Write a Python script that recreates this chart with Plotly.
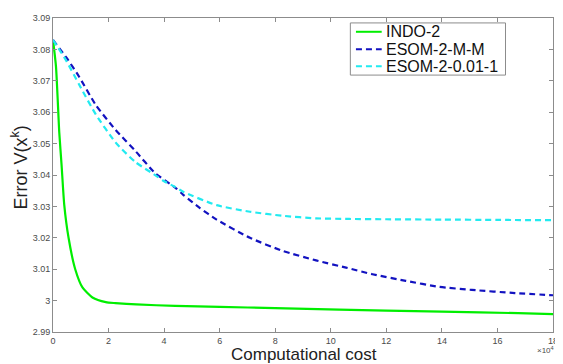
import plotly.graph_objects as go

# x in units of 1e4 (computational cost)
indo_x = [0, 0.107, 0.226, 0.31, 0.405, 0.56, 0.80, 1.06, 1.42, 1.90, 2.25, 3.0, 4.4, 6.0, 8.0, 10.3, 12.0, 14.0, 16.75, 18.0]
indo_y = [3.083, 3.0746, 3.0535, 3.0430, 3.0305, 3.0200, 3.0100, 3.0042, 3.0010, 2.9995, 2.9992, 2.9988, 2.9983, 2.9980, 2.9976, 2.9971, 2.9968, 2.9965, 2.9960, 2.9957]

mm_x = [0, 0.465, 0.94, 1.54, 2.25, 2.97, 3.69, 4.40, 4.70, 5.30, 5.89, 7.09, 8.28, 9.47, 10.55, 11.5, 12.7, 13.89, 15.08, 16.63, 18.0]
mm_y = [3.083, 3.0776, 3.0713, 3.0623, 3.0544, 3.0476, 3.0405, 3.0360, 3.0336, 3.0294, 3.0258, 3.0200, 3.0158, 3.0128, 3.0105, 3.0084, 3.0063, 3.0044, 3.0034, 3.0024, 3.0017]

e01_x = [0, 0.465, 0.94, 1.54, 2.25, 2.97, 3.69, 4.0, 4.40, 4.70, 5.89, 7.09, 8.28, 9.47, 10.67, 12.0, 14.0, 16.0, 18.0]
e01_y = [3.083, 3.0766, 3.0688, 3.0593, 3.0504, 3.0441, 3.0399, 3.0380, 3.0362, 3.0346, 3.0304, 3.0283, 3.0270, 3.0262, 3.0260, 3.0259, 3.0258, 3.0257, 3.0256]

series_names = ["INDO-2", "ESOM-2-M-M", "ESOM-2-0.01-1"]
series_colors = ["#00ee00", "#1212c0", "#22eaf0"]
series_dash = ["solid", "6px,4px", "6px,4px"]

x_ticks = [0, 2, 4, 6, 8, 10, 12, 14, 16, 18]
y_ticks = [2.99, 3.00, 3.01, 3.02, 3.03, 3.04, 3.05, 3.06, 3.07, 3.08, 3.09]
y_ticklabels = ["2.99", "3", "3.01", "3.02", "3.03", "3.04", "3.05", "3.06", "3.07", "3.08", "3.09"]

FONT = "Liberation Sans, Arial, sans-serif"

fig = go.Figure()
for xs, ys, name, col, dsh in [(indo_x, indo_y, series_names[0], series_colors[0], series_dash[0]),
                               (mm_x, mm_y, series_names[1], series_colors[1], series_dash[1]),
                               (e01_x, e01_y, series_names[2], series_colors[2], series_dash[2])]:
    fig.add_trace(go.Scatter(x=xs, y=ys, mode="lines", name=name, showlegend=False,
                             line=dict(color=col, width=2.2, dash=dsh, shape="spline", smoothing=0.6)))

axis_common = dict(showline=True, linecolor="#8c8c8c", linewidth=1, mirror="ticks",
                   ticks="inside", ticklen=4, tickcolor="#8c8c8c", showgrid=False,
                   zeroline=False, tickfont=dict(family=FONT, size=9, color="#4a4a4a"))

fig.update_xaxes(range=[0, 18], tickvals=x_ticks, ticktext=[str(v) for v in x_ticks], **axis_common)
fig.update_yaxes(range=[2.99, 3.09], tickvals=y_ticks, ticktext=y_ticklabels, **axis_common)

# axis titles and exponent
fig.add_annotation(text="Computational cost", xref="paper", yref="paper", x=0.501, y=-0.0721,
                   xanchor="center", yanchor="middle", showarrow=False,
                   font=dict(family=FONT, size=17, color="#222222"))
fig.add_annotation(text="Error V(x<sup>k</sup>)", xref="paper", yref="paper", x=-0.0663, y=0.5235,
                   xanchor="center", yanchor="middle", showarrow=False, textangle=-90,
                   font=dict(family=FONT, size=18, color="#222222"))
fig.add_annotation(text="×10<sup>4</sup>", xref="paper", yref="paper", x=1.006, y=-0.0564,
                   xanchor="right", yanchor="middle", showarrow=False,
                   font=dict(family=FONT, size=8, color="#4a4a4a"))

# legend box (MATLAB style, compact spacing)
leg_x0, leg_x1, leg_y0, leg_y1 = 0.5947, 0.905, 0.8182, 0.9843
fig.add_shape(type="rect", xref="paper", yref="paper", x0=leg_x0, x1=leg_x1, y0=leg_y0, y1=leg_y1,
              line=dict(color="#8c8c8c", width=1), fillcolor="white", layer="above")
entry_y = [0.9561, 0.9006, 0.8464]
for name, col, dsh, yy in zip(series_names, series_colors, series_dash, entry_y):
    fig.add_shape(type="line", xref="paper", yref="paper", x0=0.6059, x1=0.6574, y0=yy, y1=yy,
                  line=dict(color=col, width=2, dash=dsh), layer="above")
    fig.add_annotation(text=name, xref="paper", yref="paper", x=0.6614, y=yy,
                       xanchor="left", yanchor="middle", showarrow=False,
                       font=dict(family=FONT, size=16, color="#111111"))

fig.update_layout(
    width=555, height=356,
    margin=dict(l=45, r=5, t=5, b=32),
    paper_bgcolor="white", plot_bgcolor="white",
    showlegend=False,
)

fig.write_html("out.html")
